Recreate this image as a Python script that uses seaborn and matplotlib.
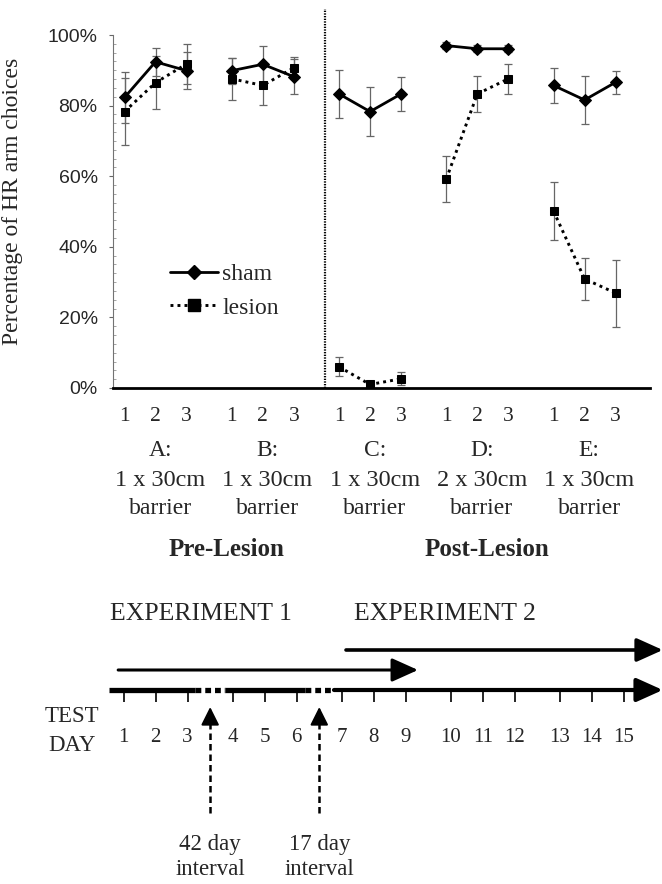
import pandas as pd
import numpy as np
import matplotlib.pyplot as plt
import matplotlib.transforms as mtransforms
from matplotlib.lines import Line2D
import seaborn as sns

sns.set_style('white')
plt.rcParams['font.family'] = ['Liberation Serif', 'DejaVu Serif']

# 数据
blocks = ['A', 'B', 'C', 'D', 'E']
block_desc = ['1 x 30cm', '1 x 30cm', '1 x 30cm', '2 x 30cm', '1 x 30cm']
trials = [1, 2, 3]
sham_pct = [82.3, 92.4, 89.9, 89.9, 91.7, 88.2, 83.3, 78.3, 83.3, 97.0, 96.1, 96.1, 85.7, 81.6, 86.6]
sham_err = [7.2, 4.0, 5.2, 3.7, 5.2, 5.0, 6.9, 6.9, 4.9, 1.0, 1.0, 1.0, 4.9, 6.9, 3.3]
lesion_pct = [78.3, 86.5, 91.8, 87.6, 85.7, 90.7, 6.0, 1.0, 2.6, 59.2, 83.3, 87.6, 50.1, 30.9, 26.9]
lesion_err = [9.5, 7.5, 5.6, 6.0, 5.5, 3.2, 2.7, 0.8, 1.8, 6.4, 5.2, 4.3, 8.3, 5.9, 9.5]
phases = ['Pre-Lesion', 'Post-Lesion']

test_days = list(range(1, 16))
experiments = ['EXPERIMENT 1', 'EXPERIMENT 2']
intervals = ['42 day\ninterval', '17 day\ninterval']

# x 位置（每组3个点，组间留空）
xpos = [k + 0.46 * (k // 3) for k in range(len(sham_pct))]

rows = []
for cond, vals, errs in [('sham', sham_pct, sham_err), ('lesion', lesion_pct, lesion_err)]:
    for k, (v, e) in enumerate(zip(vals, errs)):
        rows.append({'cond': cond, 'block': blocks[k // 3], 'trial': trials[k % 3],
                     'x': xpos[k], 'pct': v, 'err': e})
df = pd.DataFrame(rows)

fig = plt.figure(figsize=(6.62, 8.84), dpi=100)
W, H = 662, 884
ax = fig.add_axes([113 / W, 1 - 388 / H, 537 / W, 353 / H])

# 误差线
ax.errorbar(df['x'], df['pct'], yerr=df['err'], fmt='none', ecolor='0.4',
            elinewidth=0.9, capsize=2.9, capthick=0.9, zorder=1, clip_on=False)

sns.lineplot(data=df[df.cond == 'sham'], x='x', y='pct', units='block', estimator=None,
             color='black', lw=2.0, marker='D', markersize=6, markeredgecolor='black',
             ax=ax, legend=False, sort=False, clip_on=False, zorder=3)
sns.lineplot(data=df[df.cond == 'lesion'], x='x', y='pct', units='block', estimator=None,
             color='black', lw=2.1, linestyle=(0, (1, 1.4)), marker='s', markersize=6.3,
             markeredgecolor='black', ax=ax, legend=False, sort=False, clip_on=False, zorder=3)

ax.set_xlim(-0.371, 16.95)
ax.set_ylim(0, 100)
ax.set_yticks([0, 20, 40, 60, 80, 100])
ax.set_yticklabels([f'{v}%' for v in [0, 20, 40, 60, 80, 100]],
                   family='Liberation Sans', fontsize=14)
ax.set_yticks(np.arange(0, 100, 2.5), minor=True)
ax.tick_params(axis='y', which='major', direction='out', length=3, width=0.8,
               color='0.4', pad=8, left=True)
ax.tick_params(axis='y', which='minor', direction='in', length=2, width=0.5,
               color='0.5', left=True)
ax.set_xticks(xpos)
ax.set_xticklabels([str(trials[k % 3]) for k in range(len(xpos))], fontsize=15.5)
ax.tick_params(axis='x', length=0, pad=14)
ax.set_xlabel('')
ax.set_ylabel('Percentage of HR arm choices', fontsize=17)
ax.yaxis.set_label_coords(-0.168, 0.53)

for s in ['top', 'right']:
    ax.spines[s].set_visible(False)
ax.spines['left'].set_linewidth(0.8)
ax.spines['left'].set_color('0.45')
ax.spines['bottom'].set_linewidth(2)
ax.spines['bottom'].set_color('black')

# 手术前后分隔线
sep = xpos[6] - 0.45
ax.plot([sep, sep], [0, 107.5], color='black', lw=1.6, linestyle=(0, (0.6, 0.6)),
        clip_on=False, zorder=2)

# 组标签
trans = mtransforms.blended_transform_factory(ax.transData, ax.transAxes)
for j, (b, d) in enumerate(zip(blocks, block_desc)):
    cx = xpos[3 * j + 1] + 0.15
    ax.text(cx, -0.176, f'{b}:', transform=trans, ha='center', va='center', fontsize=17)
    ax.text(cx, -0.262, d, transform=trans, ha='center', va='center', fontsize=17.5)
    ax.text(cx, -0.340, 'barrier', transform=trans, ha='center', va='center', fontsize=17)
ax.text(3.3, -0.457, phases[0], transform=trans, ha='center', va='center',
        fontsize=18, fontweight='bold')
ax.text(11.7, -0.457, phases[1], transform=trans, ha='center', va='center',
        fontsize=18, fontweight='bold')

# 图例
handles = [Line2D([], [], color='black', lw=2.0, marker='D', markersize=7.5),
           Line2D([], [], color='black', lw=2.1, linestyle=(0, (1, 1.4)), marker='s',
                  markersize=9)]
ax.legend(handles, ['sham', 'lesion'], loc='upper left', bbox_to_anchor=(0.085, 0.385),
          frameon=False, fontsize=17, handlelength=2.0, handletextpad=0.2,
          labelspacing=0.5, borderpad=0)

# 下方时间轴
ax2 = fig.add_axes([0, 0, 1, 294 / H])
ax2.set_xlim(-123.6 / 32, (662 - 123.6) / 32)
ax2.set_ylim(884, 590)
ax2.axis('off')

dpos = [k + 0.41 * (k // 3) for k in range(len(test_days))]
gap1 = (dpos[2] + dpos[3]) / 2
gap2 = (dpos[5] + dpos[6]) / 2
y_line = 690
right_end = 16.85

ax2.plot([-0.46, gap1 - 0.46], [y_line, y_line], color='black', lw=3.8, solid_capstyle='butt')
ax2.plot([gap1 - 0.46, gap1 + 0.46], [y_line, y_line], color='black', lw=3.8,
         linestyle=(0, (1.1, 0.75)))
ax2.plot([gap1 + 0.46, gap2 - 0.46], [y_line, y_line], color='black', lw=3.8, solid_capstyle='butt')
ax2.plot([gap2 - 0.46, gap2 + 0.46], [y_line, y_line], color='black', lw=3.8,
         linestyle=(0, (1.1, 0.75)))
ax2.annotate('', xy=(right_end, y_line), xytext=(gap2 + 0.46, y_line), annotation_clip=False,
             arrowprops=dict(arrowstyle='-|>,head_length=1.0,head_width=0.45',
                             mutation_scale=16, lw=3.0, color='black',
                             shrinkA=0, shrinkB=0))
ax2.vlines(dpos, y_line, 702, color='black', lw=1.2)

for d, p in zip(test_days, dpos):
    ax2.text(p, 737, str(d), ha='center', va='center', fontsize=15)
ax2.text(-1.6, 716, 'TEST', ha='center', va='center', fontsize=16.5)
ax2.text(-1.6, 745, 'DAY', ha='center', va='center', fontsize=16.5)

# 实验箭头
ax2.annotate('', xy=(dpos[8] + 0.38, 670), xytext=(dpos[0] - 0.17, 670), annotation_clip=False,
             arrowprops=dict(arrowstyle='-|>,head_length=1.0,head_width=0.45',
                             mutation_scale=16, lw=2.2, color='black',
                             shrinkA=0, shrinkB=0))
ax2.annotate('', xy=(right_end, 650), xytext=(dpos[6] + 0.13, 650), annotation_clip=False,
             arrowprops=dict(arrowstyle='-|>,head_length=1.0,head_width=0.45',
                             mutation_scale=16, lw=2.6, color='black',
                             shrinkA=0, shrinkB=0))
ax2.text(dpos[0] - 0.43, 614, experiments[0], ha='left', va='center', fontsize=18.5)
ax2.text(dpos[6] + 0.38, 614, experiments[1], ha='left', va='center', fontsize=18.5)

# 间隔箭头
for g, lab in zip([gap1, gap2], intervals):
    ax2.plot([g, g], [813, 722], color='black', lw=1.8, linestyle=(0, (2.6, 1.6)))
    ax2.annotate('', xy=(g, 707), xytext=(g, 724),
                 arrowprops=dict(arrowstyle='-|>,head_length=1.0,head_width=0.5',
                                 mutation_scale=11, lw=1.5, color='black',
                                 shrinkA=0, shrinkB=0))
    ax2.text(g, 857, lab, ha='center', va='center', fontsize=16.5, linespacing=1.3)

plt.savefig('out.png', dpi=100)
plt.close()
